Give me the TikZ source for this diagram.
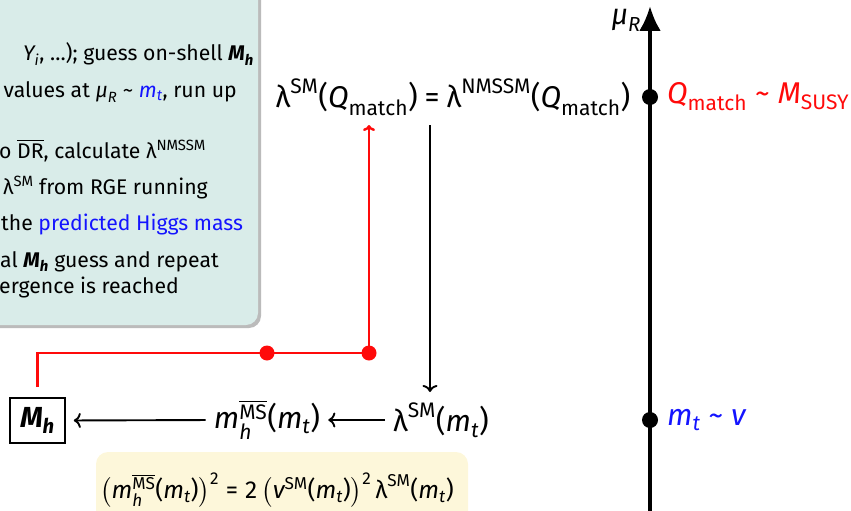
\documentclass[tikz,border=0pt]{standalone}
\usepackage{amsmath}
\usepackage{fontspec}
\setmainfont{Fira Sans}
\usetikzlibrary{arrows.meta}
\definecolor{tealbg}{RGB}{217,236,233}
\definecolor{yellowbg}{RGB}{253,247,218}
\definecolor{shadowc}{RGB}{170,170,170}
\definecolor{myblue}{RGB}{20,20,255}
\definecolor{myred}{RGB}{255,10,10}
\newcommand\iv[1]{\text{\itshape #1}}
\newcommand\bi[1]{\text{\bfseries\itshape #1}}
\newcommand\tx[1]{\text{#1}}
\begin{document}
\begin{tikzpicture}[x=1pt,y=-1pt,
  bigtxt/.style={font=\fontsize{30}{36}\selectfont, inner sep=0pt},
  boxtxt/.style={font=\fontsize{21.2}{26}\selectfont, inner sep=0pt, anchor=base west},
  arr/.style={line width=1.9pt, -{Computer Modern Rightarrow[length=7pt,width=15pt]}},
  redarr/.style={myred, line width=2.4pt, -{Computer Modern Rightarrow[length=6pt,width=12pt]}},
  dot/.style={circle, fill, inner sep=0pt, minimum size=16pt}]
\path[use as bounding box] (0,0) rectangle (851,511);
\clip (0,0) rectangle (851,511);
% teal info box
\fill[shadowc, opacity=0.8, rounded corners=12pt] (-40,-40) rectangle (261,328);
\fill[tealbg, rounded corners=12pt] (-40,-40) rectangle (258,325);
\node[boxtxt, anchor=base east] (l1) at (254,61) {$\iv{Y}_{\iv{i}}$, …); guess on-shell $\bi{M}_{\bi{h}}$};
\node[boxtxt, anchor=base east] (l2) at (237,97) {values at $\iv{μ}_{\iv{R}}$ \textasciitilde{} \textcolor{myblue}{$\iv{m}_{\iv{t}}$}, run up};
\node[boxtxt] (l3) at (-1,158) {o $\overline{\tx{DR}}$, calculate λ$^{\tx{NMSSM}}$};
\node[boxtxt] (l4) at (3,194) {λ$^{\tx{SM}}$ from RGE running};
\node[boxtxt] (l5) at (1,230) {the \textcolor{myblue}{predicted Higgs mass}};
\node[boxtxt] (l6) at (0,267) {al $\bi{M}_{\bi{h}}$ guess and repeat};
\node[boxtxt] (l7) at (-1,293) {ergence is reached};
% yellow box
\fill[yellowbg, rounded corners=12pt] (96,452) rectangle (468,540);
\node[bigtxt, font=\fontsize{24.5}{29}\selectfont] (yeq) at (277,490) {$\bigl(\iv{m}_{\iv{h}}^{\overline{\tx{MS}}}\tx{(}\iv{m}_{\iv{t}}\tx{)}\bigr)^{\tx{2}}\;\tx{=}\;\tx{2}\,\bigl(\iv{v}^{\tx{SM}}\tx{(}\iv{m}_{\iv{t}}\tx{)}\bigr)^{\tx{2}}\,\tx{λ}^{\tx{SM}}\tx{(}\iv{m}_{\iv{t}}\tx{)}$};
% axis
\coordinate (axb) at (650,520);
\coordinate (axt) at (650,6);
\draw[line width=4pt, -{Latex[length=25pt,width=22pt]}] (axb) -- (axt);
\node[bigtxt, anchor=east, font=\fontsize{29}{34}\selectfont] (mur) at (641,20) {$\iv{μ}_{\iv{R}}$};
\node[dot] (dq) at (650,97) {};
\node[dot] (dm) at (650,420) {};
\node[bigtxt, anchor=west, text=myred] (ql) at (667,97) {$\iv{Q}_{\tx{match}}$ \textasciitilde{} $\iv{M}_{\tx{SUSY}}$};
\node[bigtxt, anchor=west, text=myblue] (ml) at (667,420) {$\iv{m}_{\iv{t}}$ \textasciitilde{} \textit{v}};
% equation
\node[bigtxt] (eq) at (453,97) {$\tx{λ}^{\tx{SM}}\tx{(}\iv{Q}_{\tx{match}}\tx{)}\;\tx{=}\;\tx{λ}^{\tx{NMSSM}}\tx{(}\iv{Q}_{\tx{match}}\tx{)}$};
% bottom chain
\node[bigtxt] (lsm) at (441,420) {$\tx{λ}^{\tx{SM}}\tx{(}\iv{m}_{\iv{t}}\tx{)}$};
\node[bigtxt] (mms) at (267,420) {$\iv{m}_{\iv{h}}^{\overline{\tx{MS}}}\tx{(}\iv{m}_{\iv{t}}\tx{)}$};
\node[draw, line width=1.6pt, minimum width=55pt, minimum height=45pt, inner sep=0pt, font=\fontsize{29}{34}\selectfont] (Mh) at (37.5,420.5) {$\bi{M}_{\bi{h}}$};
% connectors
\coordinate (dtop) at (430,125);
\coordinate (dbot) at (430,392);
\draw[arr] (dtop) -- (dbot);
\draw[arr, shorten <=8pt, shorten >=8pt] (lsm.west) -- (mms.east);
\draw[arr, shorten <=8pt, shorten >=8pt] (mms.west) -- (Mh.east);
\coordinate (rc) at (369,353);
\coordinate (rtop) at (369,125);
\draw[redarr, shorten <=10pt] (Mh.north) |- (rc) -- (rtop);
\node[dot, fill=myred, minimum size=15pt] (r1) at (267,353) {};
\node[dot, fill=myred, minimum size=15pt] (r2) at (rc) {};
\end{tikzpicture}
\end{document}
